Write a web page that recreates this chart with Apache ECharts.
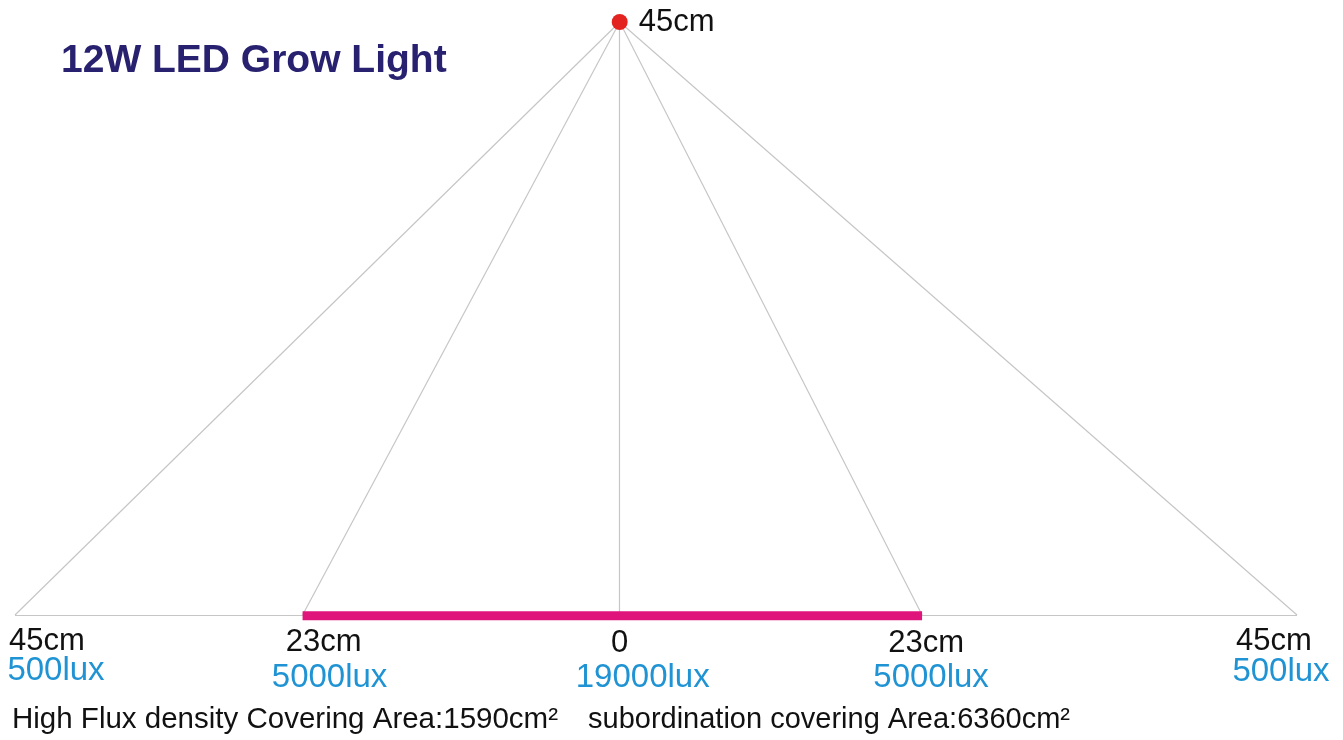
<!DOCTYPE html>
<html>
<head>
<meta charset="utf-8">
<title>12W LED Grow Light</title>
<script src="https://cdn.jsdelivr.net/npm/echarts@6/dist/echarts.min.js"></script>
<style>
  html, body { margin: 0; padding: 0; background: #fff; }
  #chart { width: 1343px; height: 740px; }
</style>
</head>
<body>
<div id="chart"></div>
<script>
// 光照分布：灯高 45cm，各位置的照度
const hangHeight = 45
// 横向位置（按图上画的位置读取，单位约为 cm）
const edgeX = [-45, -23.6, 0, 22.5, 50.4]
const distLabels = ['45cm', '23cm', '0', '23cm', '45cm']
const luxLabels = ['500lux', '5000lux', '19000lux', '5000lux', '500lux']
// 高通量覆盖区（洋红色粗线）
const highFluxRange = [-23.6, 22.5]
const titleText = '12W LED Grow Light'
const captionLeft = 'High Flux density Covering Area:1590cm²'
const captionRight = 'subordination covering Area:6360cm²'

// 标签偏移（像素），仅用于排版
const distOffsets = [[32, 26], [21, 27], [0, 28], [4, 28], [-23, 26]]
const luxOffsets = [[41, 56], [27, 63], [23, 63], [9, 63], [-16, 57]]

const FONT = '"Liberation Sans", Arial, sans-serif'

const chart = echarts.init(document.getElementById('chart'), null, { renderer: 'canvas' })

const rays = edgeX.map(x => ({ coords: [[0, hangHeight], [x, 0]] }))

const option = {
  animation: false,
  title: {
    text: titleText,
    left: 56,
    top: 37,
    textStyle: { fontFamily: FONT, fontSize: 39, fontWeight: 'bold', color: '#28216f' }
  },
  grid: { left: 15, right: 46, top: 22, bottom: 125 },
  xAxis: { type: 'value', min: -45, max: 50.4, show: false },
  yAxis: { type: 'value', min: 0, max: hangHeight, show: false },
  series: [
    {
      // 从灯到地面的光线 + 地面线
      type: 'lines',
      coordinateSystem: 'cartesian2d',
      silent: true,
      clip: false,
      lineStyle: { color: '#c6c6c6', width: 1.2, opacity: 1 },
      data: rays.concat([{ coords: [[edgeX[0], 0], [edgeX[edgeX.length - 1], 0]] }])
    },
    {
      // 高通量覆盖区
      type: 'line',
      clip: false,
      symbol: 'none',
      lineStyle: { color: '#df157c', width: 9, cap: 'butt' },
      data: highFluxRange.map(x => [x, -0.05])
    },
    {
      // 灯
      type: 'scatter',
      clip: false,
      symbolSize: 16,
      itemStyle: { color: '#e2231f', opacity: 1 },
      data: [[0, hangHeight]],
      label: {
        show: true,
        position: 'right',
        distance: 11,
        formatter: hangHeight + 'cm',
        fontFamily: FONT,
        fontSize: 31,
        color: '#111111'
      }
    },
    {
      // 距离标签
      type: 'scatter',
      clip: false,
      symbolSize: 0,
      itemStyle: { opacity: 1 },
      data: edgeX.map((x, i) => ({
        value: [x, 0],
        label: { offset: distOffsets[i], formatter: distLabels[i] }
      })),
      label: {
        show: true,
        position: 'inside',
        align: 'center',
        verticalAlign: 'middle',
        fontFamily: FONT,
        fontSize: 31,
        color: '#111111'
      }
    },
    {
      // 照度标签
      type: 'scatter',
      clip: false,
      symbolSize: 0,
      itemStyle: { opacity: 1 },
      data: edgeX.map((x, i) => ({
        value: [x, 0],
        label: { offset: luxOffsets[i], formatter: luxLabels[i] }
      })),
      label: {
        show: true,
        position: 'inside',
        align: 'center',
        verticalAlign: 'middle',
        fontFamily: FONT,
        fontSize: 33,
        color: '#1f93d3'
      }
    }
  ],
  graphic: [
    {
      type: 'text',
      left: 12,
      top: 705,
      style: { text: captionLeft, font: '29.5px ' + FONT, fill: '#111111' }
    },
    {
      type: 'text',
      left: 588,
      top: 705,
      style: { text: captionRight, font: '29px ' + FONT, fill: '#111111' }
    }
  ]
}

chart.setOption(option)
</script>
</body>
</html>
